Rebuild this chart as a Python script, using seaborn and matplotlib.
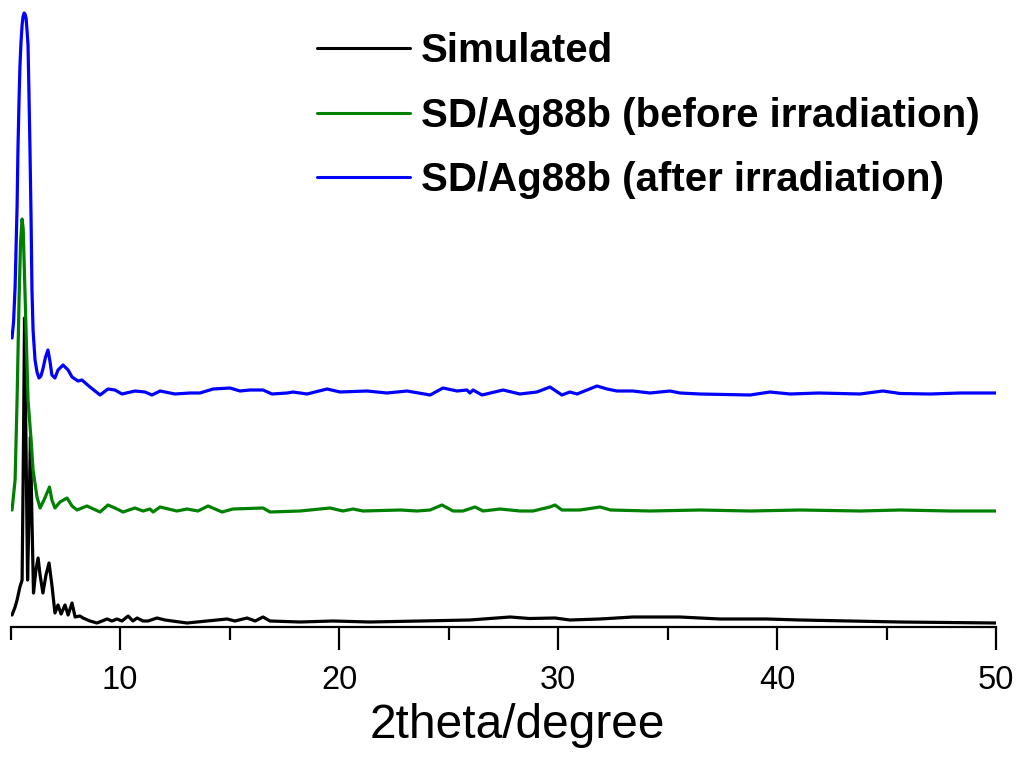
import matplotlib
matplotlib.use("Agg")
import matplotlib.pyplot as plt
import seaborn as sns
import pandas as pd
from matplotlib.ticker import MultipleLocator

# ---- data (2theta in degree, intensity in arbitrary units, offsets included) ----
sim_x = [5.07, 5.21, 5.30, 5.43, 5.53, 5.59, 5.64, 5.71, 5.78, 5.84, 5.91, 5.98, 6.05, 6.16,
         6.26, 6.35, 6.48, 6.62, 6.76, 6.89, 7.03, 7.17, 7.31, 7.49, 7.63, 7.81, 7.95, 8.17,
         8.31, 8.63, 8.95, 9.41, 9.63, 9.86, 10.09, 10.37, 10.59, 10.78, 11.05, 11.28, 11.69,
         12.05, 13.06, 13.97, 14.89, 15.25, 15.80, 16.17, 16.53, 16.85, 18.22, 19.73, 21.4,
         23.7, 25.98, 27.81, 28.7, 29.86, 30.54, 31.92, 33.42, 35.57, 37.4, 39.54, 41.05,
         45.62, 50.0]
sim_y = [12, 20, 27, 40, 47, 177, 309, 177, 47, 107, 190, 107, 34, 57,
         69, 52, 34, 52, 64, 42, 14, 22, 13, 22, 12, 24, 10, 11,
         9, 6, 4, 8, 6, 8, 6, 11, 6, 9, 6, 6, 9,
         7, 4, 6, 8, 6, 9, 6, 10, 6, 5, 6, 5,
         6, 7, 10, 8.5, 9, 7, 8, 10, 10, 8, 8, 7,
         5, 4]

bef_x = [5.07, 5.21, 5.30, 5.39, 5.46, 5.53, 5.58, 5.62, 5.71, 5.80, 5.94, 6.03, 6.21, 6.35,
         6.53, 6.78, 6.89, 7.03, 7.26, 7.58, 7.81, 8.04, 8.49, 9.09, 9.45, 9.77, 10.14, 10.68,
         11.05, 11.37, 11.51, 11.83, 12.60, 13.06, 13.56, 14.02, 14.66, 15.16, 16.53, 16.85,
         18.22, 19.59, 20.18, 20.64, 21.10, 22.8, 23.56, 24.16, 24.70, 25.21, 25.66, 26.21,
         26.58, 27.35, 28.26, 28.86, 29.63, 29.86, 30.18, 31.0, 31.92, 32.4, 34.20, 36.48,
         38.77, 41.05, 43.79, 45.62, 47.9, 50.0]
bef_y = [117, 147, 227, 327, 385, 408, 398, 367, 297, 227, 187, 157, 130, 119,
         127, 140, 127, 119, 125, 129, 121, 117, 121, 115, 122, 119, 115, 119,
         116, 118, 115, 120, 116, 118, 116, 121, 115, 118, 119, 115,
         116, 119, 116, 118, 116, 117, 116, 117, 122, 116, 116, 120,
         116, 118, 116, 116, 120, 122, 117, 117, 120, 117, 116, 117,
         116, 117, 116, 117, 116, 116]

aft_x = [5.07, 5.14, 5.21, 5.30, 5.34, 5.39, 5.43, 5.48, 5.53, 5.57, 5.62, 5.66, 5.71, 5.75,
         5.80, 5.84, 5.89, 5.94, 5.98, 6.03, 6.12, 6.21, 6.30, 6.39, 6.48, 6.60, 6.71, 6.80,
         6.89, 7.03, 7.17, 7.40, 7.63, 7.81, 8.08, 8.26, 8.63, 9.09, 9.45, 9.77,
         10.09, 10.68, 11.14, 11.46, 11.83, 12.51, 13.20, 13.65, 14.25, 15.02, 15.48, 15.94,
         16.53, 16.94, 17.63, 17.90, 18.54, 19.45, 20.05, 21.28, 22.19, 23.11, 24.16, 24.75,
         25.39, 25.84, 25.98, 26.12, 26.53, 27.49, 28.26, 29.04, 29.63, 30.18, 30.54, 30.87,
         31.78, 32.24, 32.69, 33.42, 34.20, 35.11, 35.57, 36.48, 38.77, 39.68, 40.6, 41.9,
         43.79, 44.84, 45.62, 46.99, 48.36, 50.0]
aft_y = [289, 305, 340, 420, 477, 527, 560, 585, 602, 610, 614, 613, 609, 598,
         582, 537, 477, 407, 337, 297, 267, 255, 249, 251, 258, 270, 277, 266,
         252, 249, 257, 262, 257, 250, 246, 247, 240, 232, 238, 237,
         233, 236, 235, 232, 236, 233, 234, 234, 238, 239, 236, 237,
         237, 233, 234, 235, 233, 238, 235, 236, 234, 236, 232, 239,
         236, 237, 234, 237, 232, 237, 233, 235, 240, 232, 235, 233,
         241, 238, 236, 236, 234, 236, 234, 233, 232, 235, 233, 234,
         233, 236, 233.5, 233, 234, 234]

labels = ["Simulated", "SD/Ag88b (before irradiation)", "SD/Ag88b (after irradiation)"]
colors = ["#000000", "#008000", "#0000FF"]
x_ticks = [10, 20, 30, 40, 50]
x_label = "2theta/degree"

sns.set_theme(style="white")
plt.rcParams["font.family"] = ["Liberation Sans", "DejaVu Sans"]
plt.rcParams["text.color"] = "black"
plt.rcParams["axes.labelcolor"] = "black"
plt.rcParams["xtick.color"] = "black"

fig = plt.figure(figsize=(10.19, 7.62), dpi=100)
ax = fig.add_axes([10.5 / 1019, 135 / 762, (996 - 10.5) / 1019, (627 - 5) / 762])

series = [(sim_x, sim_y), (bef_x, bef_y), (aft_x, aft_y)]
for (xs, ys), lab, col in zip(series, labels, colors):
    df = pd.DataFrame({"x": xs, "y": ys})
    sns.lineplot(data=df, x="x", y="y", ax=ax, color=col, lw=2.3, label=lab,
                 estimator=None, sort=False)

ax.set_xlim(5, 50)
ax.set_ylim(0, 622)
ax.set_xticks(x_ticks)
ax.xaxis.set_minor_locator(MultipleLocator(5))
ax.set_yticks([])
for s in ["left", "right", "top"]:
    ax.spines[s].set_visible(False)
ax.spines["bottom"].set_linewidth(1.6)
ax.spines["bottom"].set_color("black")
ax.tick_params(axis="x", which="major", direction="out", length=16.5, width=1.6,
               color="black", labelcolor="black", labelsize=23.5, pad=11, bottom=True)
ax.tick_params(axis="x", which="minor", direction="out", length=9.5, width=1.6,
               color="black", bottom=True)
ax.set_xlabel(x_label, fontsize=34.5, color="black")
ax.xaxis.set_label_coords((517 - 10.5) / (996 - 10.5), -0.122)
ax.set_ylabel("")

leg = ax.legend(loc="upper left", bbox_to_anchor=(301 / 1019, 1 - 16 / 762),
                bbox_transform=fig.transFigure, frameon=False,
                prop={"family": "Liberation Sans", "weight": "bold", "size": 29},
                handlelength=2.3, handletextpad=0.28, labelspacing=0.66, borderaxespad=0)
for h in leg.get_lines():
    h.set_linewidth(2.2)
for t in leg.get_texts():
    t.set_color("black")

fig.savefig("out.png", dpi=100)
